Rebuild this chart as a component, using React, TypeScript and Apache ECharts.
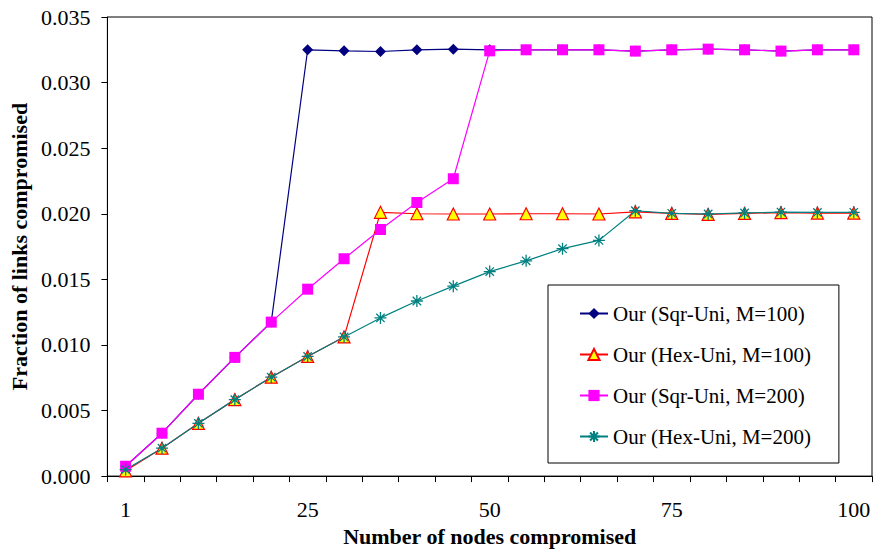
import React, { useEffect, useRef } from "react";
import * as echarts from "echarts";

const categories = ["1", "5", "10", "15", "20", "25", "30", "35", "40", "45", "50", "55", "60", "65", "70", "75", "80", "85", "90", "95", "100"];

const sqrUni100 = [0.00075, 0.00327, 0.00624, 0.00905, 0.01174, 0.0325, 0.03242, 0.03237, 0.0325, 0.03255, 0.0325, 0.0325, 0.0325, 0.0325, 0.0324, 0.0325, 0.03255, 0.0325, 0.0324, 0.0325, 0.0325];
const hexUni100 = [0.0004, 0.00213, 0.00402, 0.00583, 0.00754, 0.00912, 0.01061, 0.02011, 0.02, 0.01998, 0.01998, 0.02, 0.02, 0.01998, 0.02015, 0.02003, 0.01995, 0.02003, 0.02008, 0.02005, 0.02005];
const sqrUni200 = [0.00075, 0.00327, 0.00624, 0.00905, 0.01174, 0.01425, 0.01657, 0.0188, 0.02086, 0.02267, 0.03242, 0.0325, 0.0325, 0.0325, 0.0324, 0.0325, 0.03255, 0.0325, 0.0324, 0.0325, 0.0325];
const hexUni200 = [0.0005, 0.00213, 0.00402, 0.00583, 0.00754, 0.00912, 0.01061, 0.01206, 0.01335, 0.01448, 0.01559, 0.01641, 0.01734, 0.01797, 0.02023, 0.02003, 0.01998, 0.02006, 0.02013, 0.0201, 0.02011];

const seriesNames = ["Our (Sqr-Uni, M=100)", "Our (Hex-Uni, M=100)", "Our (Sqr-Uni, M=200)", "Our (Hex-Uni, M=200)"];

const FONT = "Liberation Serif";
const ASTERISK = "path://M0,5L10,5M5,0L5,10M1.5,1.5L8.5,8.5M8.5,1.5L1.5,8.5";

export default function App() {
  const ref = useRef<HTMLDivElement>(null);
  useEffect(() => {
    if (!ref.current) return;
    const chart = echarts.init(ref.current, null, { renderer: "svg" });
    chart.setOption({
      animation: false,
      backgroundColor: "#ffffff",
      textStyle: { fontFamily: FONT, color: "#000" },
      grid: { left: 107, right: 3, top: 17, bottom: 72, show: true, borderColor: "#000", borderWidth: 1, backgroundColor: "transparent" },
      legend: {
        orient: "vertical",
        left: 548,
        top: 285,
        padding: [18, 28, 16, 31],
        itemWidth: 28,
        itemHeight: 14,
        itemGap: 20,
        borderColor: "#000",
        borderWidth: 1,
        backgroundColor: "#fff",
        textStyle: { fontFamily: FONT, fontSize: 21, color: "#000" },
        data: seriesNames,
      },
      xAxis: {
        type: "category",
        data: categories,
        boundaryGap: true,
        name: "Number of nodes compromised",
        nameLocation: "middle",
        nameGap: 40,
        nameTextStyle: { fontFamily: FONT, fontSize: 22, fontWeight: "bold", color: "#000" },
        axisLine: { lineStyle: { color: "#000", width: 1 } },
        axisTick: { show: true, interval: 0, length: 6, lineStyle: { color: "#000" } },
        axisLabel: { interval: 4, margin: 22, fontFamily: FONT, fontSize: 22, color: "#000" },
        splitLine: { show: false },
      },
      yAxis: {
        type: "value",
        min: 0,
        max: 0.035,
        interval: 0.005,
        name: "Fraction of links compromised",
        nameLocation: "middle",
        nameGap: 71,
        nameTextStyle: { fontFamily: FONT, fontSize: 22, fontWeight: "bold", color: "#000" },
        axisLine: { show: true, lineStyle: { color: "#000", width: 1 } },
        axisTick: { show: true, length: 6, lineStyle: { color: "#000" } },
        axisLabel: { margin: 17, fontFamily: FONT, fontSize: 22, color: "#000", formatter: (v: number) => v.toFixed(3) },
        splitLine: { show: false },
      },
      series: [
        {
          name: seriesNames[0],
          type: "line",
          data: sqrUni100,
          symbol: "diamond",
          symbolSize: 11,
          color: "#000080",
          itemStyle: { color: "#000080" },
          lineStyle: { color: "#000080", width: 1.2 },
        },
        {
          name: seriesNames[1],
          type: "line",
          data: hexUni100,
          symbol: "triangle",
          symbolSize: 12,
          color: "#FF0000",
          itemStyle: { color: "#FFFF00", borderColor: "#FF0000", borderWidth: 1.2 },
          lineStyle: { color: "#FF0000", width: 1.2 },
        },
        {
          name: seriesNames[2],
          type: "line",
          data: sqrUni200,
          symbol: "rect",
          symbolSize: 11,
          color: "#FF00FF",
          itemStyle: { color: "#FF00FF" },
          lineStyle: { color: "#FF00FF", width: 1.2 },
        },
        {
          name: seriesNames[3],
          type: "line",
          data: hexUni200,
          symbol: ASTERISK,
          symbolSize: 12,
          color: "#008080",
          itemStyle: { color: "#008080", borderColor: "#008080", borderWidth: 1.3 },
          lineStyle: { color: "#008080", width: 1.2 },
        },
      ],
    });
    return () => chart.dispose();
  }, []);
  return <div ref={ref} style={{ position: "absolute", left: 0, top: 0, width: 875, height: 552 }} />;
}
